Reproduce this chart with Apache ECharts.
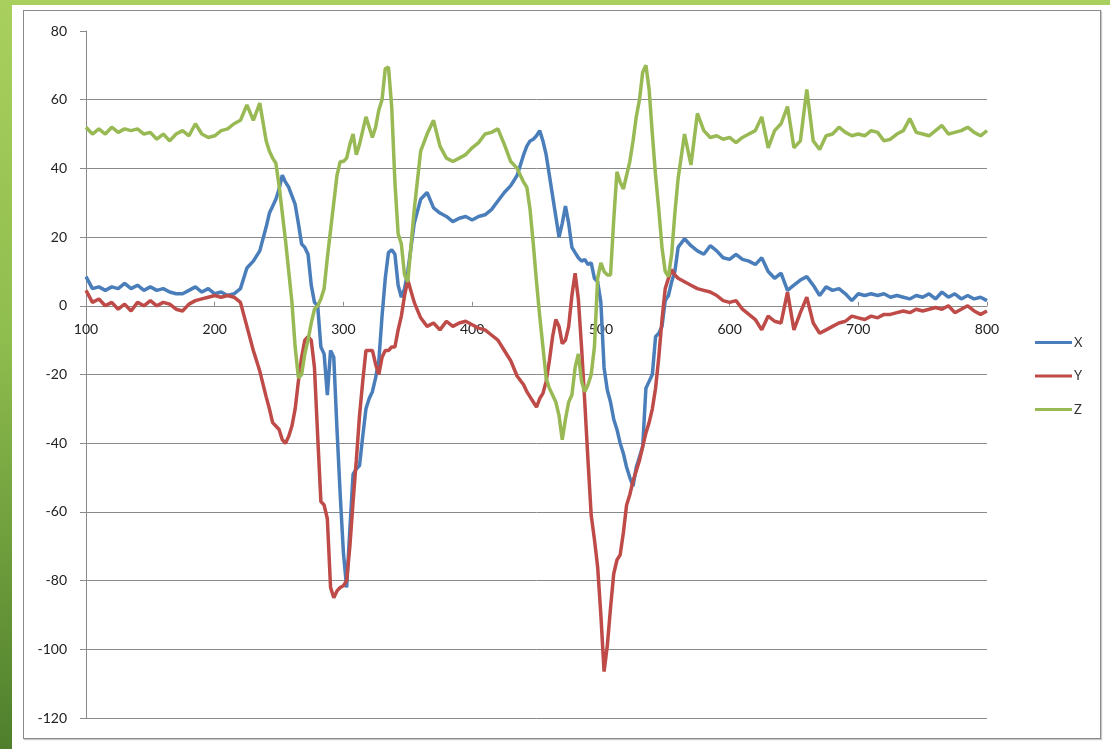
<!DOCTYPE html>
<html>
<head>
<meta charset="utf-8">
<script src="https://cdn.jsdelivr.net/npm/echarts@6/dist/echarts.min.js"></script>
<style>
html,body{margin:0;padding:0;width:1110px;height:749px;overflow:hidden;}
body{background:linear-gradient(to bottom,#a9d05e 0%,#8fbd4e 45%,#4f7f2c 100%);position:relative;}
#panel{position:absolute;left:12px;top:5px;right:0;bottom:0;background:#fff;}
#frame{position:absolute;left:23px;top:10px;width:1076px;height:727px;border:1px solid #8a8a8a;box-shadow:1px 1px 1px #c8c8c8;background:#fff;}
#chart{position:absolute;left:0;top:0;width:1110px;height:749px;}
</style>
</head>
<body>
<div id="panel"></div>
<div id="frame"></div>
<div id="chart"></div>
<script>
// x positions (sample points)
const xs = [
100,105,110,115,120,125,130,135,140,145,150,155,160,165,170,175,180,185,190,195,200,205,210,215,220,225,230,235,
240,242.5,245,247.5,250,252.5,255,257.5,260,262.5,265,267.5,270,272.5,275,277.5,280,282.5,285,287.5,290,292.5,295,297.5,300,302.5,305,307.5,310,312.5,315,317.5,320,322.5,325,327.5,330,332.5,335,337.5,340,342.5,345,347.5,350,
355,360,365,370,375,380,385,390,395,400,405,410,415,420,425,430,435,
440,442.5,445,447.5,450,452.5,455,457.5,460,462.5,465,467.5,470,472.5,475,477.5,480,482.5,485,487.5,490,492.5,495,497.5,500,502.5,505,507.5,510,512.5,515,517.5,520,522.5,525,527.5,530,532.5,535,537.5,540,542.5,545,547.5,550,552.5,555,557.5,560,
565,570,575,580,585,590,595,600,605,610,615,620,625,630,635,640,645,650,655,660,665,670,675,680,685,690,695,700,705,710,715,720,725,730,735,740,745,750,755,760,765,770,775,780,785,790,795,800
];
const seriesX = [
8.5,5,5.5,4.5,5.5,5,6.5,5,6,4.5,5.5,4.5,5,4,3.5,3.5,4.5,5.5,4,5,3.5,4,3,3.5,5,11,13,16,
23,27,29,31,34,38,36,34.5,32,29.5,24,18,17,15,6,1,0,-12,-14,-26,-13,-15,-36,-55,-72,-82,-65,-49,-47.5,-46.5,-38,-30,-27,-25,-21,-16,-3,8,15.5,16.3,15,6,2.5,5,10,
24,31,33,28.5,27,26,24.5,25.5,26,25,26,26.5,28,30.5,33,35,38,
44,46.5,48,48.5,49.5,51,48,44,38,32,26,20,24,29,24,17,15.5,14,13,13.5,12,12.5,8,7,1,-18,-24.5,-28,-33,-36,-40,-43,-47,-50,-52.5,-47,-44,-41,-24,-22,-20,-9,-8,-6,1.5,3,7,10,17,
19.5,17.5,16,15,17.5,16,14,13.5,15,13.5,13,12,14,10,8,9.5,4.5,6,7.5,8.5,6,3,5.5,4.5,5,3.5,1.5,3.5,3,3.5,3,3.5,2.5,3,2.5,2,3,2.5,3.5,2,4,2.5,3.5,2,3,2,2.5,1.5
];
const seriesY = [
4.5,1,2,0,1,-1,0.5,-1.5,1,0,1.5,0,1,0.5,-1,-1.5,0.5,1.5,2,2.5,3,2.5,3,2.5,1,-6,-13,-19,
-26.5,-30,-34,-35,-36,-39,-40,-38,-35,-30,-22,-15,-10,-9,-10,-18,-38,-57,-58,-62,-82,-85,-83,-82,-81.5,-80,-70,-57,-45,-32,-22,-13,-13,-13,-17,-20,-15,-13,-13,-12,-12,-7,-3,3,7.5,
1,-3.5,-6,-5,-7,-4.5,-6,-5,-4.5,-5.5,-6.5,-7,-8.5,-10,-13,-16,-20.5,
-23,-25,-26.5,-28,-29.5,-27,-25.5,-22,-16,-9,-4,-6,-11,-10,-6,3,9.5,2,-12,-28,-45,-61,-68,-76,-90,-106.5,-99,-88,-78,-74,-72.5,-66,-58,-55,-51,-48,-45,-41,-37,-34,-30,-24,-15,-4,5,8,10.5,9,8,
7,6,5,4.5,4,3,1.5,1,1.5,-1,-2.5,-4,-7,-3,-4.5,-5,4,-7,-2,2.5,-5,-8,-7,-6,-5,-4.5,-3,-3.5,-4,-3,-3.5,-2.5,-2.5,-2,-1.5,-2,-1,-1.5,-1,-0.5,-1,0,-2,-1,0,-1.5,-2.5,-1.5
];
const seriesZ = [
52,50,51.5,50,52,50.5,51.5,51,51.5,50,50.5,48.5,50,48,50,51,49.5,53,50,49,49.5,51,51.5,53,54,58.5,54,59,
48,45,43,41.5,35,27,19,10,1,-12,-21,-20,-14,-10,-5,-1,0,2,5,14,22,30,38,42,42,43,47,50,44,47,51,55,52,49,52,57,60,69,69.5,58,36,21,18,9,7,
28,45,50,54,46.5,43,42,43,44,46,47.5,50,50.5,51.5,47,42,40,
36,34.5,28,18,7,-3,-12,-21,-24,-26,-28,-32,-39,-33,-28,-26,-18,-14,-22,-25,-23,-20,-12,8,12.5,10,9,9,25,39,36,34,38,42,48,55,60,68,70,63,50,38,28,17,10,8.5,15,27,37,
50,41,56,51,49,49.5,48.5,49,47.5,49,50,51,55,46,51,53,58,46,48,63,48,45.5,49.5,50,52,50.5,49.5,50,49.5,51,50.5,48,48.5,50,51,54.5,50.5,50,49.5,51,52.5,50,50.5,51,52,50.5,49.5,51
];
const seriesNames = ['X','Y','Z'];
const seriesColors = ['#4a7ebb','#be4b48','#98b954'];

function pairs(vals){ return xs.map((x,i)=>[x,vals[i]]); }

const chart = echarts.init(document.getElementById('chart'), null, {renderer:'canvas'});
const fontFam = 'Lato, "Open Sans", sans-serif';
const gridColors = [];
for (let i=0;i<10;i++) gridColors.push('#8a8a8a');
gridColors.push('rgba(0,0,0,0)');

const gridTop = 31, gridHeight = 687, yMin = -120, yMax = 80;
// place the x axis on the value 0 of the y axis
const zeroOffset = -(gridHeight * (0 - yMin) / (yMax - yMin));

chart.setOption({
  backgroundColor: 'transparent',
  animation: false,
  grid: {left: 86, top: gridTop, width: 901, height: gridHeight, containLabel: false},
  legend: {
    orient: 'vertical',
    left: 1030, top: 331,
    icon: 'rect', itemWidth: 37, itemHeight: 3, itemGap: 20.5,
    textStyle: {fontFamily: fontFam, fontSize: 13, color: '#333', padding:[0,0,0,-3]},
    data: seriesNames
  },
  xAxis: {
    type: 'value', min: 100, max: 800, interval: 100,
    position: 'bottom', offset: zeroOffset,
    axisLine: {onZero: false, lineStyle: {color: '#8a8a8a', width: 1}},
    axisTick: {show: true, inside: true, length: 4, lineStyle: {color: '#8a8a8a'}},
    axisLabel: {fontFamily: fontFam, fontSize: 14, color: '#222', margin: 17},
    splitLine: {show: false}
  },
  yAxis: {
    type: 'value', min: yMin, max: yMax, interval: 20,
    axisLine: {show: true, lineStyle: {color: '#8a8a8a', width: 1}},
    axisTick: {show: true, length: 6, lineStyle: {color: '#8a8a8a'}},
    axisLabel: {fontFamily: fontFam, fontSize: 14, color: '#222', margin: 19},
    splitLine: {show: true, lineStyle: {color: gridColors, width: 1}}
  },
  series: seriesNames.map((n,i)=>({
    name: n, type: 'line', symbol: 'none', smooth: false,
    data: pairs([seriesX, seriesY, seriesZ][i]),
    lineStyle: {color: seriesColors[i], width: 3.5},
    itemStyle: {color: seriesColors[i]}
  }))
});
</script>
</body>
</html>
